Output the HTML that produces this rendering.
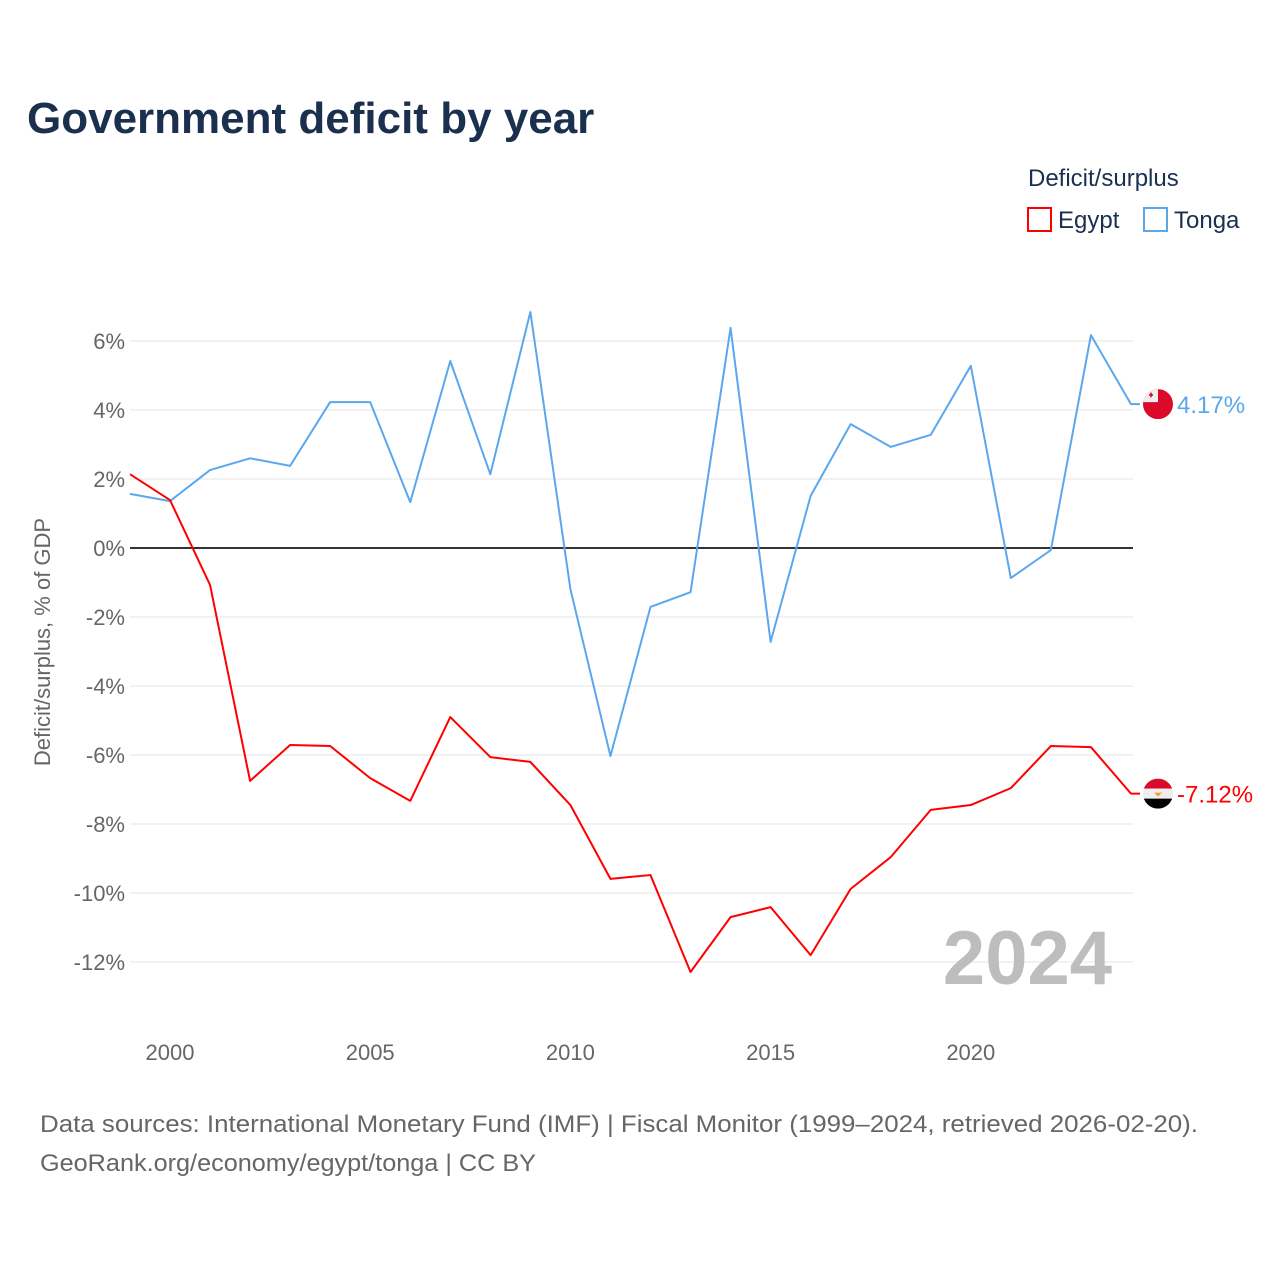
<!DOCTYPE html>
<html><head><meta charset="utf-8"><style>
body{margin:0;background:#fff;font-family:"Liberation Sans",sans-serif}
</style></head><body>
<svg width="1280" height="1280" viewBox="0 0 1280 1280" xmlns="http://www.w3.org/2000/svg" font-family="Liberation Sans, sans-serif">
<text x="27" y="133" font-size="44" font-weight="bold" fill="#1b2f4e">Government deficit by year</text>
<text x="1028" y="186" font-size="24" fill="#1b2f4e">Deficit/surplus</text>
<g><rect x="1028" y="208" width="23" height="23" fill="#fff" stroke="#f00" stroke-width="2"/><text x="1058" y="228" font-size="24" fill="#1b2f4e">Egypt</text></g>
<g><rect x="1144" y="208" width="23" height="23" fill="#fff" stroke="#5ba7ee" stroke-width="2"/><text x="1174" y="228" font-size="24" fill="#1b2f4e">Tonga</text></g>
<text transform="translate(50,642) rotate(-90)" text-anchor="middle" font-size="22" fill="#666">Deficit/surplus, % of GDP</text>
<g id="grid"></g><g id="axes"></g><g id="series"></g>
<text x="1112" y="984" text-anchor="end" font-size="76" font-weight="bold" fill="#bdbdbd">2024</text>
<text x="40" y="1132" font-size="24" fill="#666" textLength="1158" lengthAdjust="spacingAndGlyphs">Data sources: International Monetary Fund (IMF) | Fiscal Monitor (1999–2024, retrieved 2026-02-20).</text>
<text x="40" y="1171" font-size="24" fill="#666" textLength="496" lengthAdjust="spacingAndGlyphs">GeoRank.org/economy/egypt/tonga | CC BY</text>
</svg>
<script>
const years=[1999,2000,2001,2002,2003,2004,2005,2006,2007,2008,2009,2010,2011,2012,2013,2014,2015,2016,2017,2018,2019,2020,2021,2022,2023,2024];
const tonga=[1.57,1.36,2.26,2.6,2.38,4.23,4.23,1.33,5.42,2.14,6.84,-1.19,-6.03,-1.71,-1.28,6.38,-2.72,1.51,3.59,2.93,3.28,5.28,-0.87,-0.06,6.17,4.17];
const egypt=[2.14,1.39,-1.07,-6.75,-5.71,-5.74,-6.67,-7.33,-4.9,-6.06,-6.2,-7.45,-9.59,-9.48,-12.29,-10.7,-10.41,-11.8,-9.88,-8.96,-7.59,-7.45,-6.96,-5.74,-5.77,-7.12];
const yTicks=[6,4,2,0,-2,-4,-6,-8,-10,-12];
const xTicks=[2000,2005,2010,2015,2020];
const NS="http://www.w3.org/2000/svg";
const X=y=>170+(y-2000)*40.04;
const Y=v=>548-v*34.5;
function mk(t,a,p){const e=document.createElementNS(NS,t);for(const k in a)e.setAttribute(k,a[k]);p.appendChild(e);return e;}
const grid=document.getElementById('grid'),axes=document.getElementById('axes'),ser=document.getElementById('series');
yTicks.forEach(v=>{
 const l=mk('line',{x1:130,x2:1133,y1:Y(v),y2:Y(v),stroke:v===0?'#333':'#e6e6e6','stroke-width':v===0?2:1},grid);
 
 
 const t=mk('text',{x:125,y:Y(v)+8,'text-anchor':'end','font-size':22,fill:'#666'},axes);
 t.textContent=v+'%';
 
 
});
xTicks.forEach(y=>{
 const t=mk('text',{x:X(y),y:1060,'text-anchor':'middle','font-size':22,fill:'#666'},axes);
 t.textContent=y;
 
 
});
function series(vals,color,name,label,flag){
 const pts=vals.map((v,i)=>X(years[i])+','+Y(v));
 const last=vals[vals.length-1];
 pts.push((X(years[years.length-1])+9)+','+Y(last));
 const p=mk('polyline',{points:pts.join(' '),fill:'none',stroke:color,'stroke-width':2,'stroke-linejoin':'round'},ser);
 
 
 const cx=1158,cy=Y(last);
 const g=mk('g',{},ser);
 
 
 flag(g,cx,cy);
 const t=mk('text',{x:1177,y:cy+9,'font-size':24,fill:color},ser);
 t.textContent=label;
 
 
}
series(tonga,'#5ba7ee','tonga','4.17%',(g,cx,cy)=>{
 const cp=mk('clipPath',{id:'ct'},g);mk('circle',{cx,cy,r:15},cp);
 mk('rect',{x:cx-15,y:cy-15,width:30,height:30,fill:'#db0a2b','clip-path':'url(#ct)'},g);
 mk('rect',{x:cx-15,y:cy-15,width:15,height:13,fill:'#eee','clip-path':'url(#ct)'},g);
 mk('rect',{x:cx-9,y:cy-10,width:4,height:1.6,fill:'#db0a2b'},g);
 mk('rect',{x:cx-7.8,y:cy-11.5,width:1.6,height:4.6,fill:'#db0a2b'},g);
});
series(egypt,'#ff0000','egypt','-7.12%',(g,cx,cy)=>{
 const cp=mk('clipPath',{id:'ce'},g);mk('circle',{cx,cy,r:15},cp);
 mk('rect',{x:cx-15,y:cy-15,width:30,height:10,fill:'#db0a2b','clip-path':'url(#ce)'},g);
 mk('rect',{x:cx-15,y:cy-5,width:30,height:10,fill:'#eee','clip-path':'url(#ce)'},g);
 mk('rect',{x:cx-15,y:cy+5,width:30,height:10,fill:'#000','clip-path':'url(#ce)'},g);
 mk('path',{d:`M${cx-4} ${cy-1}L${cx+4} ${cy-1}L${cx} ${cy+3}Z`,fill:'#f3a21c'},g);
});
</script>
</body></html>
